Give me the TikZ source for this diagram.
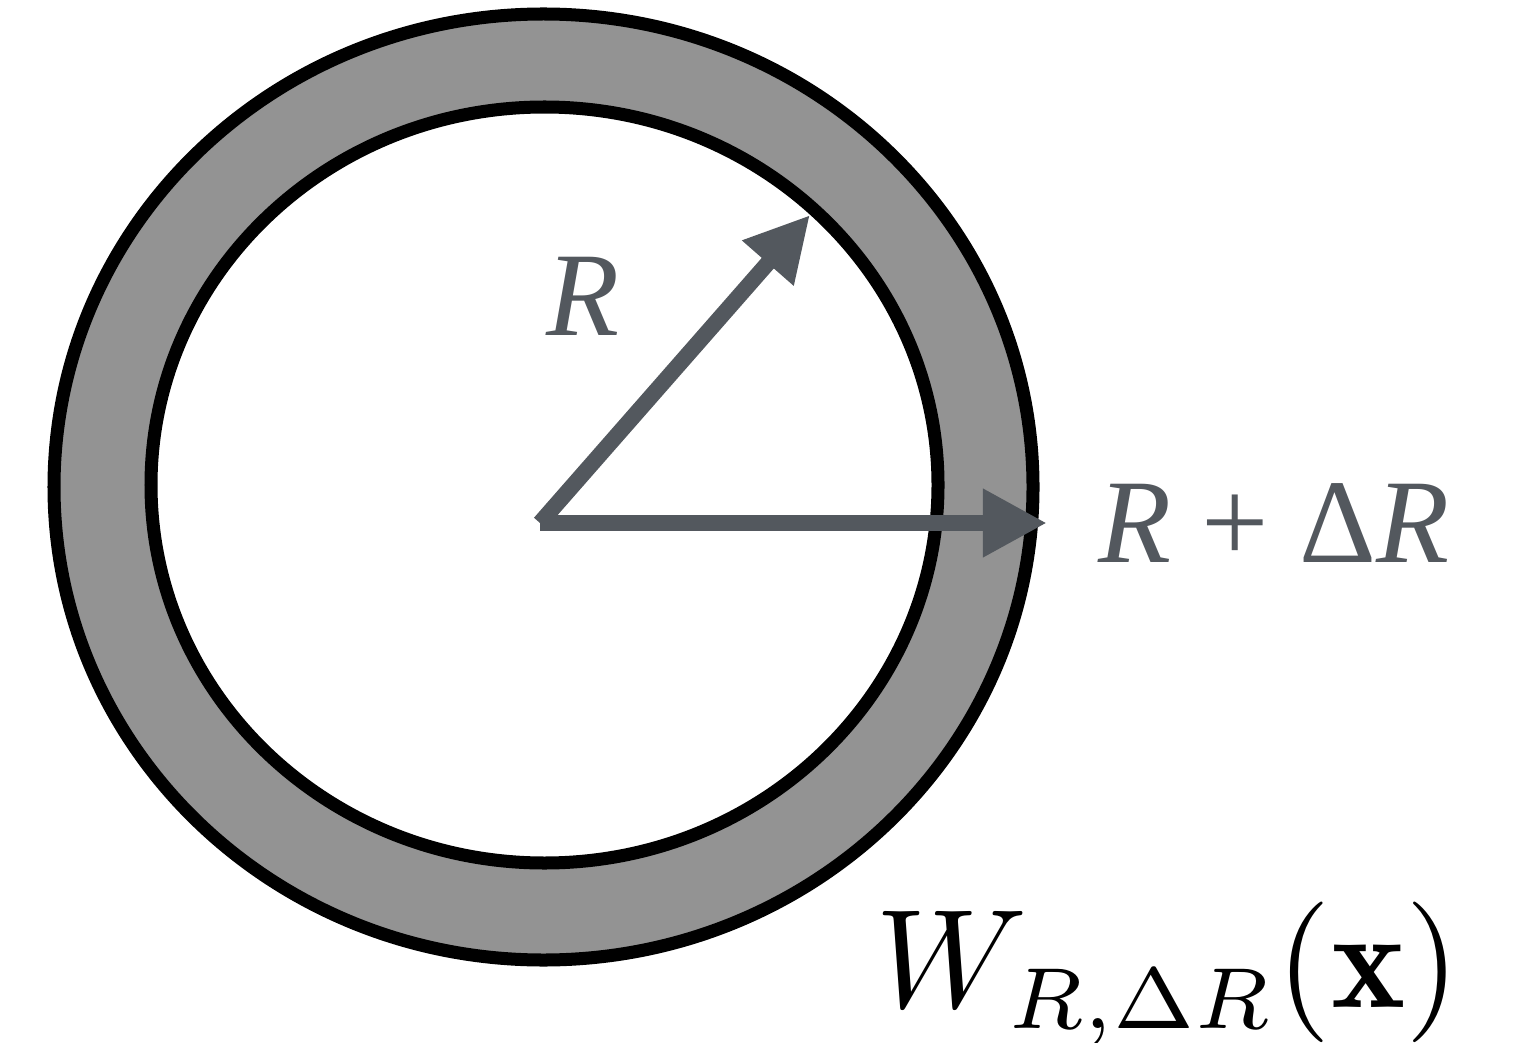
\documentclass[tikz,border=0pt]{standalone}
\usepackage{fontspec}
\usepackage{amsmath}
\usepackage{graphicx}
\usetikzlibrary{arrows.meta}
\newfontfamily\lblfont{Liberation Serif}
\definecolor{ringgray}{HTML}{939393}
\definecolor{ptrgray}{HTML}{53585E}
\begin{document}
\begin{tikzpicture}[x=0.01cm, y=-0.01cm,
  rim/.style={draw=black, line width=0.13cm},
  ptr/.style={draw=ptrgray, line width=0.16cm, -{Triangle[length=0.64cm, width=0.64cm]}},
  lbl/.style={text=ptrgray, font=\lblfont\fontsize{34}{38}\selectfont, inner sep=0pt}]
\useasboundingbox (0,0) rectangle (1522,1043);
% ring
\path[rim, fill=ringgray] (543.5,487) ellipse [x radius=489.5, y radius=473];
\path[rim, fill=white] (544.5,485) ellipse [x radius=393.5, y radius=378];
% radii
\coordinate (ctr) at (540,523);
\coordinate (rtip) at (810,215);
\coordinate (drtip) at (1047,523);
\draw[ptr] (ctr) -- (rtip);
\draw[ptr] (ctr) -- (drtip);
\node[lbl, anchor=base] (rlbl) at (583,335) {\textit{R}};
\node[lbl, anchor=base] (drlbl) at (1274,562) {\textit{R} + Δ\textit{R}};
\node[scale=4, inner sep=0pt, anchor=base west] (wlbl) at (873,1007) {$W_{\scalebox{0.88}{$\scriptstyle R,\Delta R$}}(\mathbf{x})$};
\end{tikzpicture}
\end{document}
